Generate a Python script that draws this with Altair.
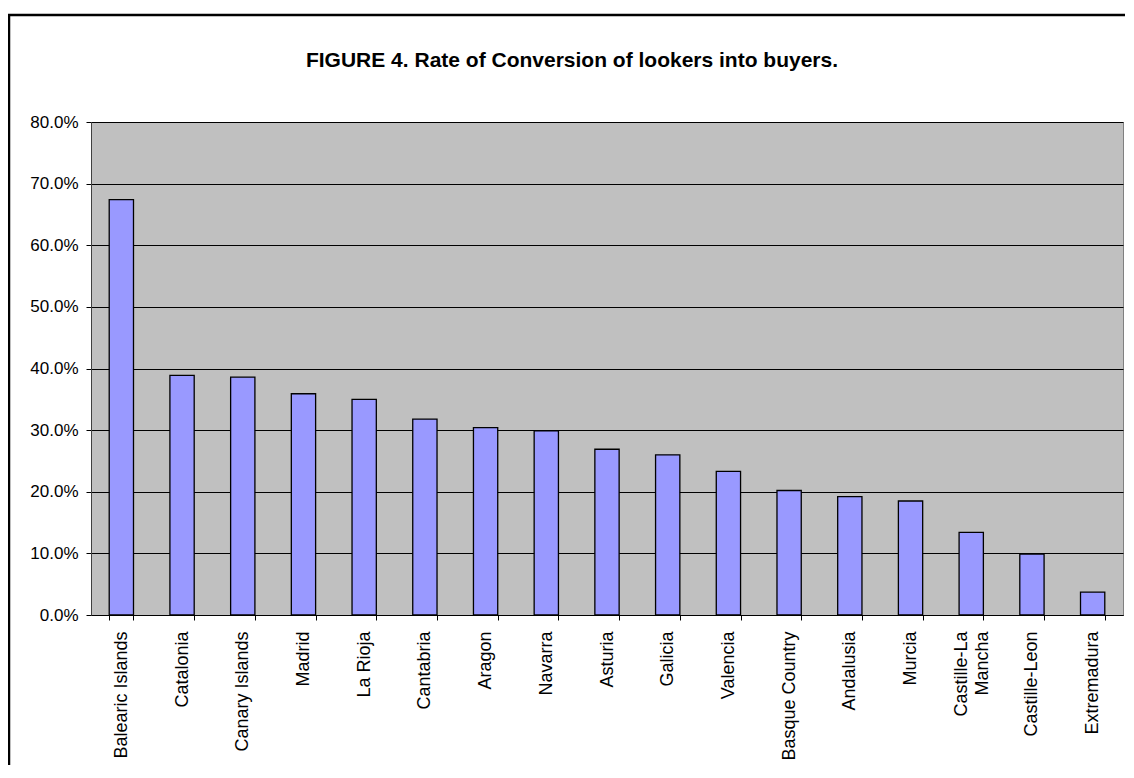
import altair as alt
import pandas as pd

regions = ["Balearic Islands", "Catalonia", "Canary Islands", "Madrid", "La Rioja",
           "Cantabria", "Aragon", "Navarra", "Asturia", "Galicia", "Valencia",
           "Basque Country", "Andalusia", "Murcia", "Castille-La Mancha",
           "Castille-Leon", "Extremadura"]
rates = [0.674, 0.389, 0.386, 0.359, 0.350, 0.318, 0.304, 0.299, 0.269, 0.260,
         0.233, 0.202, 0.192, 0.185, 0.134, 0.099, 0.037]
y_ticks = [0.0, 0.1, 0.2, 0.3, 0.4, 0.5, 0.6, 0.7, 0.8]

df = pd.DataFrame({"region": regions, "rate": rates})

FONT = "Arial, Liberation Sans, sans-serif"
W, H = 1032, 493

bars = alt.Chart(df).mark_bar(
    color="#9999FF", stroke="black", strokeWidth=1.3
).encode(
    x=alt.X("region:N", sort=regions, title=None,
            scale=alt.Scale(paddingInner=0.6, paddingOuter=0.3),
            axis=alt.Axis(labelAngle=-90, labelAlign="right", labelBaseline="middle",
                          labelPadding=11, tickSize=5, tickBand="extent",
                          tickColor="black", domainColor="black",
                          labelFont=FONT, labelFontSize=18, labelColor="black",
                          labelLineHeight=21,
                          labelOffset={"condition": {"test": "datum.value == 'Castille-La Mancha'",
                                                     "value": -10}, "value": 0},
                          labelExpr="datum.value == 'Castille-La Mancha' ? ['Castille-La', 'Mancha'] : datum.value")),
    y=alt.Y("rate:Q", title=None,
            scale=alt.Scale(domain=[0, 0.8], nice=False),
            axis=alt.Axis(values=y_ticks, format=".1%", tickSize=5, labelPadding=8,
                          labelFont=FONT, labelFontSize=17, labelColor="black",
                          grid=True, gridColor="black", gridWidth=1,
                          tickColor="black", domainColor="#404040")),
)

frame = alt.Chart(pd.DataFrame({"a": [0]})).mark_rect(
    filled=False, stroke="black", strokeWidth=2.5, clip=False
).encode(
    x=alt.value(-82), x2=alt.value(W + 60),
    y=alt.value(-107), y2=alt.value(H + 200),
)

chart = alt.layer(bars, frame).properties(
    width=W, height=H,
    autosize=alt.AutoSizeParams(type="none"),
    padding={"left": 83, "top": 114, "right": 2, "bottom": 150},
    background="white",
    title=alt.TitleParams(
        "FIGURE 4. Rate of Conversion of lookers into buyers.",
        font=FONT, fontSize=21, fontWeight="bold", color="black",
        anchor="middle", dx=-35, dy=57, offset=0,
    ),
).configure_view(
    fill="#C0C0C0", stroke="#808080", strokeWidth=1
)

chart.save("out.html", embed_options={"renderer": "svg", "actions": False})
